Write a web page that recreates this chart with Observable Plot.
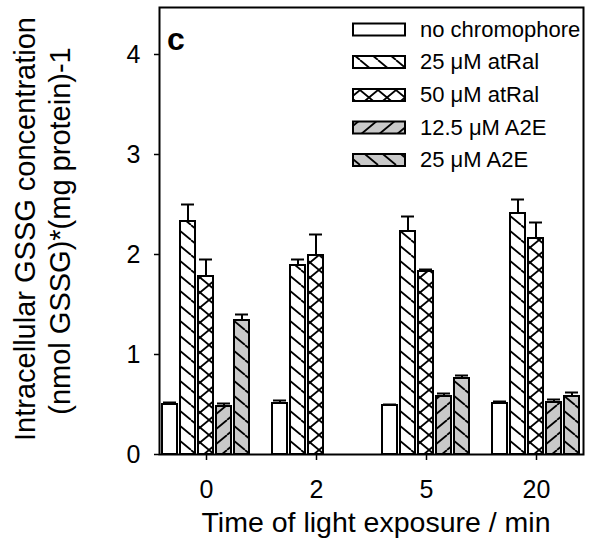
<!DOCTYPE html>
<html><head><meta charset="utf-8">
<script src="https://cdn.jsdelivr.net/npm/d3@7"></script>
<script src="https://cdn.jsdelivr.net/npm/@observablehq/plot@0.6"></script>
<style>
body{margin:0;background:#fff}
#chart{width:600px;height:554px}
</style>
</head><body><div id="chart"></div>
<script>
// ---- data ----
const times = ["0", "2", "5", "20"];
const series = ["no chromophore", "25 μM atRal", "50 μM atRal", "12.5 μM A2E", "25 μM A2E"];
const noChromophore    = [0.50, 0.51, 0.49, 0.51];
const noChromophoreErr = [0.02, 0.03, 0.01, 0.02];
const atRal25          = [2.33, 1.89, 2.23, 2.41];
const atRal25Err       = [0.17, 0.06, 0.15, 0.14];
const atRal50          = [1.78, 1.99, 1.83, 2.16];
const atRal50Err       = [0.17, 0.21, 0.02, 0.16];
const a2e125           = [0.48, null, 0.58, 0.52];
const a2e125Err        = [0.03, null, 0.03, 0.03];
const a2e25            = [1.34, null, 0.76, 0.58];
const a2e25Err         = [0.06, null, 0.03, 0.04];
const yTicks = [0, 1, 2, 3, 4];

const values = [noChromophore, atRal25, atRal50, a2e125, a2e25];
const errors = [noChromophoreErr, atRal25Err, atRal50Err, a2e125Err, a2e25Err];
const patternIds = ["pat-none", "pat-back", "pat-cross", "pat-fwd-gray", "pat-back-gray"];

const rows = [];
series.forEach((s, i) => times.forEach((t, j) => {
  if (values[i][j] != null) rows.push({time: t, series: s, value: values[i][j], err: errors[i][j], sIdx: i});
}));

const font = "Liberation Sans, Arial, Helvetica, sans-serif";

const barMarks = series.map((s, i) =>
  Plot.barY(rows.filter(r => r.series === s), {
    fx: "time", x: "series", y: "value",
    fill: `url(#${patternIds[i]})`, stroke: "black", strokeWidth: 2
  })
);

const svg = Plot.plot({
  width: 600, height: 554,
  marginLeft: 148, marginRight: 5, marginTop: 7, marginBottom: 100,
  style: {fontFamily: font, color: "black", background: "white", overflow: "visible"},
  fx: {domain: times, paddingInner: 0.144, paddingOuter: 0.086, label: null},
  x: {domain: series, paddingInner: 0.158, paddingOuter: 0.079, axis: null},
  y: {domain: [0, 4.47]},
  marks: [
    ...barMarks,
    Plot.ruleX(rows, {fx: "time", x: "series", y1: "value", y2: d => d.value + d.err, stroke: "black", strokeWidth: 2}),
    Plot.tickY(rows, {fx: "time", x: "series", y: d => d.value + d.err, stroke: "black", strokeWidth: 2, insetLeft: 1, insetRight: 1}),
    Plot.axisY({ticks: yTicks, tickFormat: d3.format("d"), tickSize: 5, tickPadding: 14, fontSize: 25, label: null, strokeWidth: 1.5}),
    Plot.axisFx({anchor: "bottom", tickSize: 6, tickPadding: 20, fontSize: 25, label: null, strokeWidth: 1.5}),
    Plot.frame({facet: "super", stroke: "black", strokeWidth: 2})
  ]
});

document.getElementById("chart").appendChild(svg);

// ---- patterns ----
const root = d3.select(svg);
const defs = root.insert("defs", ":first-child");
function hatch(id, bg, kind) {
  const w = 18, h = 15;
  const p = defs.append("pattern").attr("id", id).attr("patternUnits", "userSpaceOnUse")
    .attr("width", w).attr("height", h);
  p.append("rect").attr("width", w).attr("height", h).attr("fill", bg);
  const back = `M${-w},0L0,${h}M0,0L${w},${h}M${w},0L${2*w},${h}`;
  const fwd = `M${-w},${h}L0,0M0,${h}L${w},0M${w},${h}L${2*w},0`;
  let d = "";
  if (kind === "back") d = back;
  else if (kind === "fwd") d = fwd;
  else if (kind === "cross") d = back + fwd;
  if (d) p.append("path").attr("d", d).attr("stroke", "black").attr("stroke-width", 1.8).attr("fill", "none");
}
hatch("pat-none", "white", "none");
hatch("pat-back", "white", "back");
hatch("pat-cross", "white", "cross");
hatch("pat-fwd-gray", "#c9c9c9", "fwd");
hatch("pat-back-gray", "#c9c9c9", "back");

// ---- legend ----
const legend = root.append("g").attr("font-family", font).attr("font-size", 22).attr("text-anchor", "start");
const rowY = [29.5, 62, 95, 127.5, 160];
series.forEach((s, i) => {
  legend.append("rect").attr("x", 353).attr("y", rowY[i] - 6).attr("width", 52).attr("height", 12)
    .attr("fill", `url(#${patternIds[i]})`).attr("stroke", "black").attr("stroke-width", 2);
  legend.append("text").attr("x", 420).attr("y", rowY[i]).attr("dy", "0.33em").attr("fill", "black").text(s);
});

// ---- panel letter and titles ----
root.append("text").attr("x", 167).attr("y", 50).attr("text-anchor", "start").attr("font-family", font).attr("font-size", 32)
  .attr("font-weight", "bold").attr("fill", "black").text("c");
root.append("text").attr("x", 376).attr("y", 532).attr("text-anchor", "middle").attr("font-family", font)
  .attr("font-size", 28.5).attr("fill", "black").text("Time of light exposure / min");
const yt = root.append("g").attr("font-family", font).attr("font-size", 29).attr("fill", "black").attr("text-anchor", "middle");
yt.append("text").attr("transform", "translate(35,229) rotate(-90)").text("Intracellular GSSG concentration");
yt.append("text").attr("transform", "translate(70,231) rotate(-90)").text("(nmol GSSG)*(mg protein)-1");
</script>
</body></html>
